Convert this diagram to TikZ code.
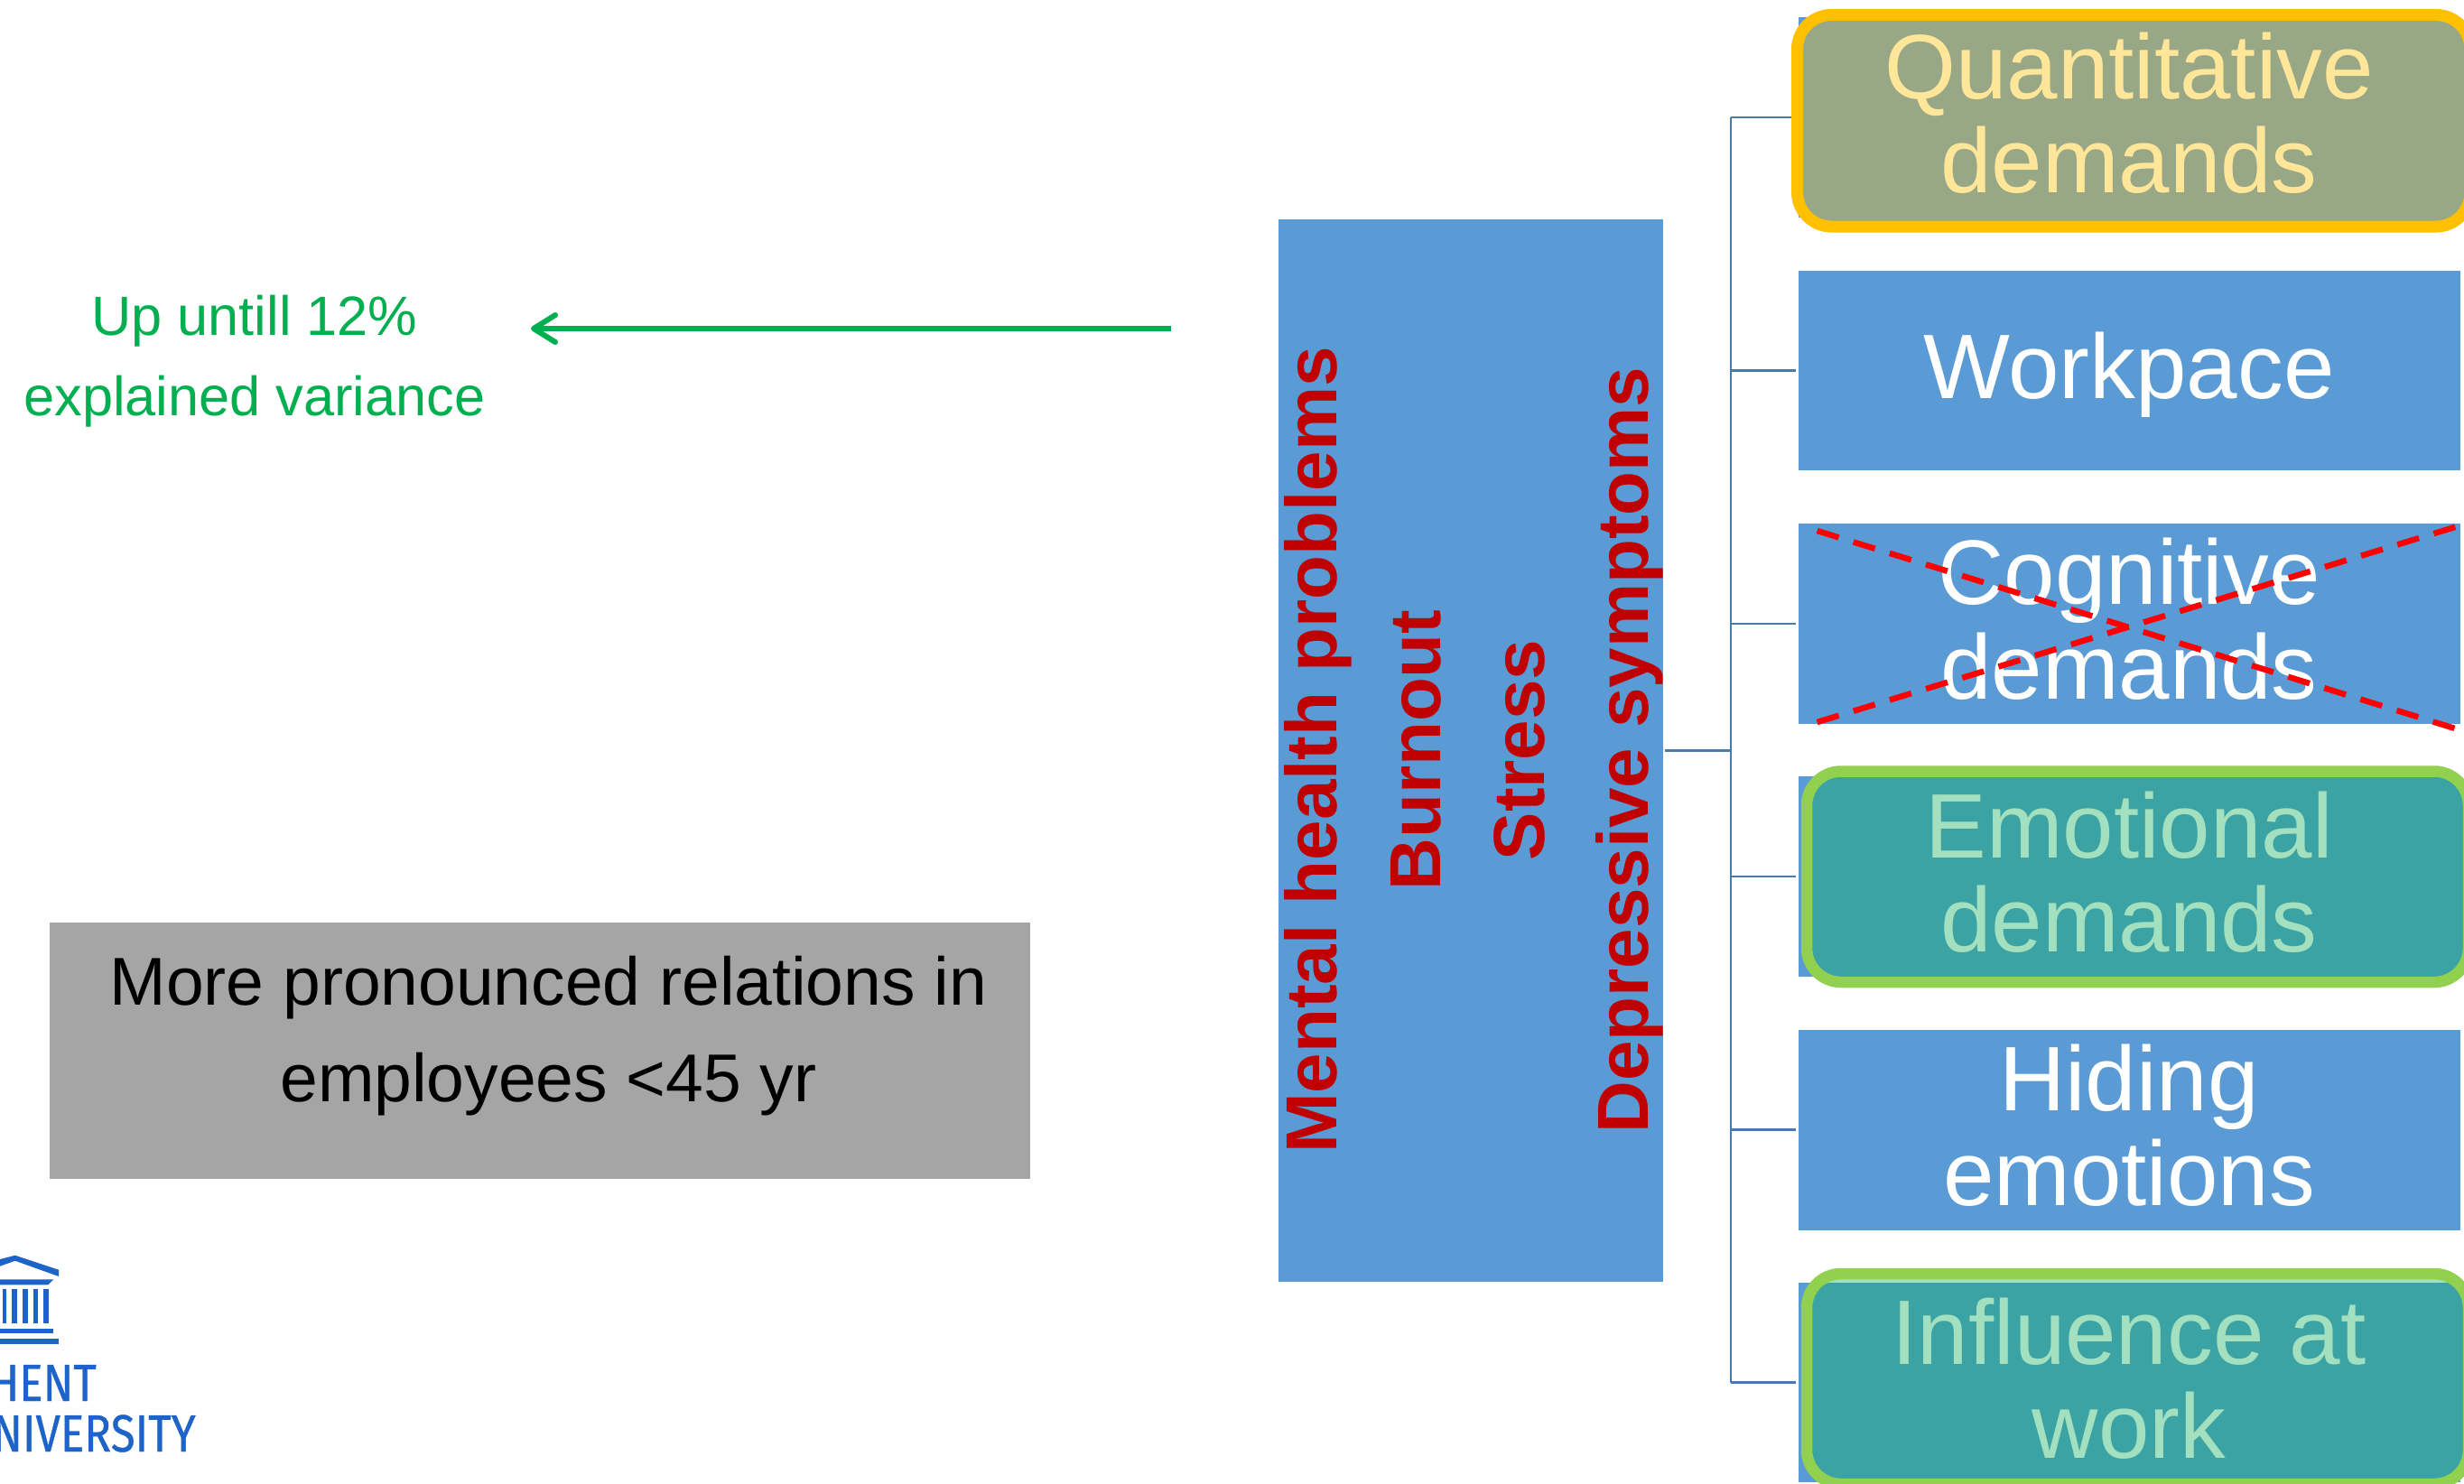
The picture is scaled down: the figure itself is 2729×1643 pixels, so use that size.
\documentclass[tikz,border=0pt]{standalone}
\usepackage{fontspec}
\setmainfont{Liberation Sans}
\newfontfamily\logofont[FakeStretch=0.85,FakeBold=0.6]{Fira Sans}
\usetikzlibrary{arrows.meta}
\definecolor{boxblue}{HTML}{5B9BD5}
\definecolor{connblue}{HTML}{4A7BAD}
\definecolor{olivefill}{HTML}{98A886}
\definecolor{palegold}{HTML}{FFE699}
\definecolor{goldline}{HTML}{FFC000}
\definecolor{tealfill}{HTML}{3BA3A3}
\definecolor{palegreen}{HTML}{A2E0BF}
\definecolor{greenline}{HTML}{92D050}
\definecolor{darkred}{HTML}{C00000}
\definecolor{arrowgreen}{HTML}{00B050}
\definecolor{greybox}{HTML}{A5A5A5}
\definecolor{ughent}{HTML}{1E64C8}
\newcommand{\stacklines}[2]{\vbox{\baselineskip=#1pt\lineskiplimit=-200pt\halign{\hfil##\hfil\cr #2\cr}}}
\tikzset{
  x=1pt, y=-1pt,
  bluebox/.style={fill=boxblue, draw=none, inner sep=0pt, outer sep=0pt, anchor=north west},
  conn/.style={draw=connblue, line width=2.2pt},
  boxlabel/.style={inner sep=0pt, anchor=base, font=\fontsize{101.5}{104}\selectfont, text=white},
  goldmark/.style={draw=goldline, line width=13pt, fill=palegold, rounded corners=38pt, inner sep=0pt, outer sep=0pt, anchor=north west},
  greenmark/.style={draw=greenline, line width=12.5pt, fill=palegreen, rounded corners=38pt, inner sep=0pt, outer sep=0pt, anchor=north west},
  crossline/.style={draw=red, line width=6.5pt, dash pattern=on 25pt off 17pt},
  greentext/.style={inner sep=0pt, anchor=base, font=\fontsize{61.3}{89}\selectfont, text=arrowgreen},
  logotext/.style={inner sep=0pt, anchor=base east, font=\logofont\fontsize{58}{58}\selectfont, text=ughent},
}
\begin{document}
\begin{tikzpicture}
\useasboundingbox (0,0) rectangle (2729,1643);
\clip (0,0) rectangle (2729,1643);
\fill[white] (0,0) rectangle (2729,1643);

% central box
\node[bluebox, minimum width=426pt, minimum height=1177pt] (main) at (1416,243) {};
\node[inner sep=0pt, anchor=base, rotate=90, text=darkred, font=\fontsize{80}{115}\bfseries\selectfont] (mainlabel) at (1825.5,831)
  {\stacklines{115}{Mental health problems\cr Burnout\cr Stress\cr Depressive symptoms}};

% right column boxes
\node[bluebox, minimum width=733pt, minimum height=222pt] (q) at (1991.5,19) {};
\node[bluebox, minimum width=733pt, minimum height=221pt] (w) at (1991.5,300) {};
\node[bluebox, minimum width=733pt, minimum height=222pt] (c) at (1991.5,580) {};
\node[bluebox, minimum width=733pt, minimum height=222pt] (e) at (1991.5,860) {};
\node[bluebox, minimum width=733pt, minimum height=222pt] (h) at (1991.5,1140.5) {};
\node[bluebox, minimum width=733pt, minimum height=221pt] (i) at (1991.5,1421) {};

% tree connectors
\coordinate (bus) at (1917,831.5);
\draw[conn, shorten <=2pt] (main.east) -- (bus);
\draw[conn] (bus |- q.west) -- (bus |- i.west);
\foreach \n in {q,w,c,e,h,i}
  \draw[conn, shorten >=2.5pt] (bus |- \n.west) -- (\n.west);

% highlights
\node[goldmark, minimum width=745.5pt, minimum height=234.5pt,
  path picture={\fill[olivefill] (q.north west) rectangle (2760,241);}] (qmark) at (1990.5,16.5) {};
\node[greenmark, minimum width=733pt, minimum height=233.5pt,
  path picture={\fill[tealfill] (e.north west) rectangle (2760,1082);}] (emark) at (2001,854.5) {};
\node[greenmark, minimum width=733pt, minimum height=233pt,
  path picture={\fill[tealfill] (i.north west) rectangle (2760,1650);}] (imark) at (2001,1411) {};

% box labels
\node[boxlabel, text=palegold] (qlabel) at (2358,213) {\stacklines{104}{Quantitative\cr demands}};
\node[boxlabel] (wlabel) at (2358,441.5) {Workpace};
\node[boxlabel] (clabel) at (2358,774) {\stacklines{105}{Cognitive\cr demands}};
\node[boxlabel, text=palegreen] (elabel) at (2358,1054) {\stacklines{104}{Emotional\cr demands}};
\node[boxlabel] (hlabel) at (2358,1335) {\stacklines{105}{Hiding\cr emotions}};
\node[boxlabel, text=palegreen] (ilabel) at (2358,1615) {\stacklines{104}{Influence at\cr work}};

% crossing out
\coordinate (xa) at (2012.6,588);
\coordinate (xb) at (2735,812);
\coordinate (xc) at (2012.6,800);
\coordinate (xd) at (2735,579);
\draw[crossline] (xa) -- (xb);
\draw[crossline] (xc) -- (xd);

% explained variance
\node[greentext] (variance) at (282,460) {\stacklines{89}{Up untill 12\%\cr explained variance}};
\coordinate (arrowstart) at (1297,364);
\coordinate (arrowend) at (588,364);
\draw[draw=arrowgreen, line width=6pt, -{Straight Barb[length=24pt,width=30pt,round,line width=6pt]}] (arrowstart) -- (arrowend);

% grey note
\node[fill=greybox, inner sep=0pt, anchor=north west, minimum width=1086pt, minimum height=284pt] (note) at (54.5,1022) {};
\node[inner sep=0pt, anchor=base, font=\fontsize{75}{107}\selectfont, text=black] (notelabel) at (607.5,1220)
  {\stacklines{107}{More pronounced relations in\cr employees <45 yr}};

% logo
\fill[ughent] (0,1395) -- (16.7,1390.7) -- (65,1406.7) -- (65,1414) -- (16.7,1396.7) -- (0,1402.7) -- cycle;
\fill[ughent] (0,1417.3) -- (59.3,1417.3) -- (53.3,1423.3) -- (0,1423.3) -- cycle;
\fill[ughent] (2.7,1428.3) rectangle (7.3,1466);
\fill[ughent] (13.3,1428.3) rectangle (19.3,1466);
\fill[ughent] (25,1428.3) rectangle (30.7,1466);
\fill[ughent] (36.7,1428.3) rectangle (42.3,1466);
\fill[ughent] (48,1428.3) rectangle (53.7,1466);
\fill[ughent] (0,1471.7) rectangle (59.3,1477.3);
\fill[ughent] (0,1483) rectangle (65,1488.7);
\node[logotext] (logo1) at (107,1552) {HENT};
\node[logotext] (logo2) at (217,1608) {NIVERSITY};
\end{tikzpicture}
\end{document}
